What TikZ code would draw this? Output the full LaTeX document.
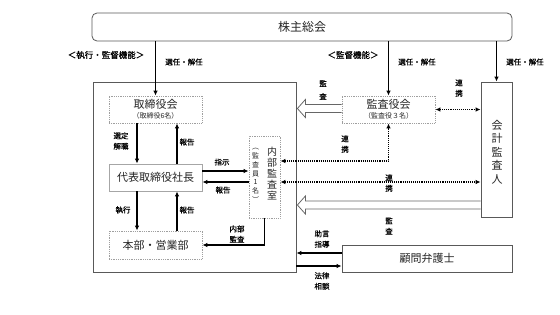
\documentclass[tikz,border=0pt]{standalone}
\usepackage{fontspec}
\setmainfont{Noto Sans CJK JP}
\newfontfamily\lblfont{Noto Sans CJK JP}[FakeBold=0.6]
\usetikzlibrary{arrows.meta,calc}
\begin{document}
\begin{tikzpicture}[x=1pt,y=-1pt,
  tip/.tip={Latex[length=5pt,width=4.5pt]},
  arr/.style={draw=black,line width=1.1pt,-tip},
  dotarr/.style={draw=black,line width=1.1pt,densely dotted,tip-tip},
  hollow/.style={draw=gray!80!black,line width=0.8pt,fill=white,line join=miter},
  dbox/.style={draw=gray!75,densely dotted,line width=0.8pt,inner sep=0pt,fill=white},
  sbox/.style={draw=gray!70!black,line width=0.8pt,inner sep=0pt},
  boxtxt/.style={font=\fontsize{11}{13}\selectfont,align=center,text=black!85},
  lbl/.style={font=\lblfont\fontsize{7.5}{10.5}\selectfont,align=center,inner sep=0pt},
  vt/.style={align=center,inner sep=0pt,text=black!85}
]
\useasboundingbox[fill=white] (0,0) rectangle (560,314);

% boxes
\node[sbox,rounded corners=5pt,minimum width=420,minimum height=28] (share) at (302,27) {};
\node[font=\fontsize{12}{14}\selectfont,text=black!85] (sharet) at (share.center) {株主総会};
\node[sbox,minimum width=203,minimum height=190] (company) at (194.5,177) {};

\node[dbox,boxtxt,minimum width=93,minimum height=27] (board) at (155.5,109.5)
  {取締役会\\[-3pt]{\fontsize{7}{8}\selectfont （取締役6名）}};
\node[sbox,draw=gray!70,boxtxt,minimum width=93,minimum height=27] (pres) at (155.5,177.5) {代表取締役社長};
\node[dbox,boxtxt,minimum width=93,minimum height=28] (hq) at (155.5,245) {本部・営業部};
\node[dbox,minimum width=31,minimum height=82] (internal) at (264.5,177) {};
\node[vt,font=\fontsize{10}{10.8}\selectfont] (intt) at (272,173.5) {内\\部\\監\\査\\室};
\node[vt,font=\fontsize{7}{8.8}\selectfont] (intm) at (255.5,175.5) {︵\\監\\査\\員\\1\\名\\︶};

\node[dbox,boxtxt,minimum width=93,minimum height=27] (kansa) at (388.5,109.5)
  {監査役会\\[-3pt]{\fontsize{7}{8}\selectfont （監査役３名）}};
\node[sbox,minimum width=31,minimum height=135] (auditor) at (496.5,149.5) {};
\node[vt,font=\fontsize{11}{13.5}\selectfont] (audt) at (497,152) {会\\計\\監\\査\\人};
\node[sbox,boxtxt,minimum width=170,minimum height=27] (lawyer) at (427,258.5) {顧問弁護士};

% appointment arrows
\draw[arr] (share.south -| board.north) -- (board.north);
\draw[arr] (share.south -| kansa.north) -- (kansa.north);
\draw[arr] (share.south -| auditor.north) -- (auditor.north);

% board <-> president
\draw[arr] ([xshift=-18.5]board.south) -- ([xshift=-18.5]pres.north);
\draw[arr] ([xshift=21.5]pres.north) -- ([xshift=21.5]board.south);
% president <-> hq
\draw[arr] ([xshift=-18.5]pres.south) -- ([xshift=-18.5]hq.north);
\draw[arr] ([xshift=21.5]hq.north) -- ([xshift=21.5]pres.south);
% president <-> internal audit
\draw[arr] ([yshift=6.5]pres.east) -- ([yshift=6.5]pres.east -| internal.west);
\draw[arr] ([yshift=-4.5]pres.east -| internal.west) -- ([yshift=-4.5]pres.east);
% internal audit -> hq
\draw[arr] (internal.south) |- (hq.east);

% dotted cooperation
\draw[dotarr] (kansa.east) -- (kansa.east -| auditor.west);
\draw[dotarr] ([yshift=16]internal.east) -| (kansa.south);
\draw[dotarr] ([yshift=-5]internal.east) -- ([yshift=-5]internal.east -| auditor.west);

% hollow audit arrows
\coordinate (ha) at ([yshift=1]kansa.west);
\coordinate (hatip) at ([xshift=1]company.east |- ha);
\draw[hollow] ([yshift=4]ha) -- ([xshift=8,yshift=4]hatip) -- ([xshift=8,yshift=9]hatip) -- (hatip)
  -- ([xshift=8,yshift=-9]hatip) -- ([xshift=8,yshift=-4]hatip) -- ([yshift=-4]ha);
\coordinate (hb) at ([yshift=-55.5]auditor.west);
\coordinate (hbtip) at ([xshift=1]company.east |- hb);
\draw[hollow] ([yshift=4]hb) -- ([xshift=8,yshift=4]hbtip) -- ([xshift=8,yshift=9]hbtip) -- (hbtip)
  -- ([xshift=8,yshift=-9]hbtip) -- ([xshift=8,yshift=-4]hbtip) -- ([yshift=-4]hb);

% lawyer
\draw[arr] ([yshift=5.5]lawyer.west) -- ([yshift=5.5]lawyer.west -| company.east);
\draw[arr] ([yshift=-7.5]lawyer.west -| company.east) -- ([yshift=-7.5]lawyer.west);

% labels
\node[lbl,font=\lblfont\fontsize{8.5}{10}\selectfont] (l1) at (106,55) {＜執行・監督機能＞};
\node[lbl] (l2) at (184,62) {選任・解任};
\node[lbl,font=\lblfont\fontsize{8.5}{10}\selectfont] (l3) at (353,55) {＜監督機能＞};
\node[lbl] (l4) at (417,62) {選任・解任};
\node[lbl] (l5) at (525,62) {選任・解任};
\node[lbl] (l6) at (121,141) {選定\\解職};
\node[lbl] (l7) at (187,142) {報告};
\node[lbl] (l8) at (123,210) {執行};
\node[lbl] (l9) at (187,210) {報告};
\node[lbl] (l10) at (222,162) {指示};
\node[lbl] (l11) at (223,190) {報告};
\node[lbl] (l12) at (237,234) {内部\\監査};
\node[lbl,font=\lblfont\fontsize{7.5}{13}\selectfont] (l13) at (323,90) {監\\査};
\node[lbl] (l14) at (459,88) {連\\携};
\node[lbl] (l15) at (345,144) {連\\携};
\node[lbl] (l16) at (389,183) {連\\携};
\node[lbl] (l17) at (389,226) {監\\査};
\node[lbl] (l18) at (322,239) {助言\\指導};
\node[lbl] (l19) at (322,281) {法律\\相談};
\end{tikzpicture}
\end{document}
